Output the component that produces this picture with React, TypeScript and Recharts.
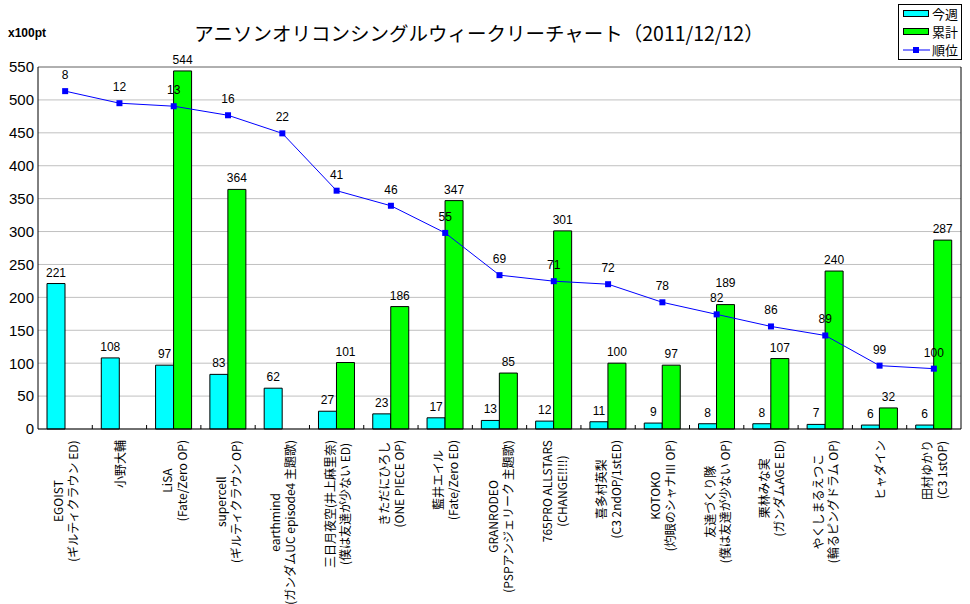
import React from 'react';
import {
  ComposedChart,
  Bar,
  Line,
  XAxis,
  YAxis,
  CartesianGrid,
  LabelList,
  Legend,
  ReferenceLine,
} from 'recharts';

const titleText = 'アニソンオリコンシングルウィークリーチャート（2011/12/12）';
const unitText = 'x100pt';

const categoryLines: string[][] = [
  ['EGOIST', '(ギルティクラウン ED)'],
  ['小野大輔'],
  ['LiSA', '(Fate/Zero OP)'],
  ['supercell', '(ギルティクラウン OP)'],
  ['earthmind', '(ガンダムUC episode4 主題歌)'],
  ['三日月夜空(井上麻里奈)', '(僕は友達が少ない ED)'],
  ['きただにひろし', '(ONE PIECE OP)'],
  ['藍井エイル', '(Fate/Zero ED)'],
  ['GRANRODEO', '(PSPアンジェリーク 主題歌)'],
  ['765PRO ALLSTARS', '(CHANGE!!!!)'],
  ['喜多村英梨', '(C3 2ndOP/1stED)'],
  ['KOTOKO', '(灼眼のシャナⅢ OP)'],
  ['友達づくり隊', '(僕は友達が少ない OP)'],
  ['栗林みな実', '(ガンダムAGE ED)'],
  ['やくしまるえつこ', '(輪るピングドラム OP)'],
  ['ヒャダイン'],
  ['田村ゆかり', '(C3 1stOP)'],
];

const weeklyValues: number[] = [221, 108, 97, 83, 62, 27, 23, 17, 13, 12, 11, 9, 8, 8, 7, 6, 6];
const totalValues: (number | null)[] = [null, null, 544, 364, null, 101, 186, 347, 85, 301, 100, 97, 189, 107, 240, 32, 287];
const rankValues: number[] = [8, 12, 13, 16, 22, 41, 46, 55, 69, 71, 72, 78, 82, 86, 89, 99, 100];

const leftMax = 550;
const rankMax = 120;
const leftTicks: number[] = [0, 50, 100, 150, 200, 250, 300, 350, 400, 450, 500, 550];
const rankTicks: number[] = [0, 20, 40, 60, 80, 100, 120];

const seriesNames = { weekly: '今週', total: '累計', rank: '順位' };

const data = categoryLines.map((lines, i) => ({
  name: lines.join('\n'),
  weekly: weeklyValues[i],
  total: totalValues[i],
  rank: rankValues[i],
}));

const LABEL_FONT = 12;
const LABEL_FAMILY = '"Noto Sans CJK JP", sans-serif';
const NUM_FAMILY = '"Liberation Sans", sans-serif';
const LINE_H = 15;
const BAR_LABEL_OFFSET = 7;
const RANK_LABEL_OFFSET = 12;

let measureCtx: CanvasRenderingContext2D | null = null;
function textWidth(s: string): number {
  if (!measureCtx) {
    const c = document.createElement('canvas');
    measureCtx = c.getContext('2d');
  }
  if (!measureCtx) return s.length * LABEL_FONT;
  measureCtx.font = `${LABEL_FONT}px "Noto Sans CJK JP"`;
  return measureCtx.measureText(s).width;
}

const XTick = (props: any) => {
  const { x, y, payload, index } = props;
  const lines = String(payload.value).split('\n');
  const maxW = Math.max(...lines.map(textWidth));
  const cx = -(11 + maxW / 2);
  const half = Number(payload.offset) || 0;
  return (
    <g>
      {index > 0 && half > 0 ? (
        <line x1={x - half} x2={x - half} y1={y} y2={y - 4} stroke="#000" />
      ) : null}
      <g transform={`translate(${x},${y}) rotate(-90)`}>
        {lines.map((t, i) => (
          <text
            key={i}
            x={cx}
            y={(i - (lines.length - 1) / 2) * LINE_H}
            textAnchor="middle"
            dominantBaseline="central"
            fontSize={LABEL_FONT}
            fontFamily={LABEL_FAMILY}
            fill="#000"
          >
            {t}
          </text>
        ))}
      </g>
    </g>
  );
};

// Bar value label that steps above the rank label when the two would collide
const TotalLabel = (props: any) => {
  const vb = props.viewBox || {};
  const bx = Number(vb.x ?? props.x);
  const rawY = Number(vb.y ?? props.y);
  const bw = Number(vb.width ?? props.width);
  const rawH = Number(vb.height ?? props.height);
  const value = props.value;
  if (value == null || value === '' || !isFinite(bx)) return null;
  const bh = Math.abs(rawH);
  const by = rawH < 0 ? rawY + rawH : rawY;
  const v = Number(value);
  let idx: number = typeof props.index === 'number' ? props.index : -1;
  if (idx < 0 || totalValues[idx] !== v) idx = totalValues.indexOf(v);
  let baseline = by - BAR_LABEL_OFFSET;
  if (v > 0 && bh > 0 && idx >= 0) {
    const bottom = by + bh;
    const plotH = (leftMax * bh) / v;
    const top = bottom - plotH;
    const rankY = top + (rankValues[idx] / rankMax) * plotH;
    const rankBase = rankY - RANK_LABEL_OFFSET;
    if (baseline > rankBase - 10 && baseline - 9 < rankBase) {
      baseline = rankBase - 15;
    }
  }
  return (
    <text x={bx + bw / 2} y={baseline} textAnchor="middle" fontSize={12} fill="#000" fontFamily={NUM_FAMILY}>
      {value}
    </text>
  );
};

const SquareDot = (props: any) => {
  const { cx, cy } = props;
  if (cx == null || cy == null) return null;
  return <rect x={cx - 3} y={cy - 3} width={6} height={6} fill="#0000ff" />;
};

const LegendBox = () => (
  <div
    style={{
      border: '1px solid #000',
      background: '#fff',
      padding: '0px 3px 0px 4px',
      fontFamily: LABEL_FAMILY,
      fontSize: 13,
      lineHeight: '18px',
      color: '#000',
    }}
  >
    {[
      { key: 'weekly', color: '#00ffff', type: 'rect' },
      { key: 'total', color: '#00ff00', type: 'rect' },
      { key: 'rank', color: '#0000ff', type: 'line' },
    ].map((it) => (
      <div key={it.key} style={{ display: 'flex', alignItems: 'center', height: 18 }}>
        <svg width={27} height={10} style={{ marginRight: 2 }}>
          {it.type === 'rect' ? (
            <rect x={0.5} y={1.5} width={25} height={6} fill={it.color} stroke="#000" />
          ) : (
            <g>
              <line x1={0} y1={5} x2={27} y2={5} stroke={it.color} />
              <rect x={10} y={2} width={6} height={6} fill={it.color} />
            </g>
          )}
        </svg>
        <span>{(seriesNames as any)[it.key]}</span>
      </div>
    ))}
  </div>
);

export default function App() {
  return (
    <div style={{ position: 'absolute', left: 0, top: 0, width: 970, height: 604, background: '#fff' }}>
      <div
        style={{
          position: 'absolute',
          left: 0,
          top: 21,
          width: 958,
          textAlign: 'center',
          fontFamily: LABEL_FAMILY,
          fontSize: 19.5,
          lineHeight: '24px',
          color: '#000',
        }}
      >
        {titleText}
      </div>
      <div
        style={{
          position: 'absolute',
          left: 8,
          top: 25,
          fontFamily: NUM_FAMILY,
          fontWeight: 'bold',
          fontSize: 12,
          lineHeight: '16px',
          color: '#000',
        }}
      >
        {unitText}
      </div>
      <ComposedChart
        width={970}
        height={604}
        data={data}
        margin={{ top: 67, right: 9, bottom: 0, left: 0 }}
        barGap={0}
        style={{ position: 'absolute', left: 0, top: 0 }}
      >
        <CartesianGrid horizontal vertical={false} stroke="#c0c0c0" />
        <XAxis
          dataKey="name"
          type="category"
          interval={0}
          height={175}
          tickLine={false}
          tickSize={0}
          tickMargin={0}
          axisLine={{ stroke: '#000' }}
          tick={(p: any) => <XTick {...p} />}
        />
        <YAxis
          width={38}
          domain={[0, leftMax]}
          ticks={leftTicks}
          interval={0}
          tickLine={false}
          tickSize={0}
          tickMargin={4}
          axisLine={{ stroke: '#000' }}
          tick={{ fontSize: 15, fill: '#000', fontFamily: NUM_FAMILY }}
        />
        <YAxis
          yAxisId="rank"
          orientation="right"
          width={1}
          reversed
          domain={[0, rankMax]}
          ticks={rankTicks}
          interval={0}
          mirror
          tick={false}
          tickSize={5}
          axisLine={{ stroke: '#000' }}
          tickLine={{ stroke: '#000' }}
        />
        <ReferenceLine y={leftMax} stroke="#808080" />
        <Legend
          layout="horizontal"
          verticalAlign="middle"
          align="center"
          content={<LegendBox />}
          wrapperStyle={{ position: 'absolute', top: 4, left: 898, width: 'auto' }}
        />
        <Bar dataKey="weekly" name={seriesNames.weekly} fill="#00ffff" stroke="#000" strokeWidth={1} barSize={18} isAnimationActive={false}>
          <LabelList dataKey="weekly" position="top" offset={BAR_LABEL_OFFSET} fontSize={12} fill="#000" fontFamily={NUM_FAMILY} />
        </Bar>
        <Bar
          dataKey="total"
          name={seriesNames.total}
          fill="#00ff00"
          stroke="#000"
          strokeWidth={1}
          barSize={18}
          isAnimationActive={false}
          label={(p: any) => <TotalLabel {...p} />}
        />
        <Line
          yAxisId="rank"
          dataKey="rank"
          name={seriesNames.rank}
          stroke="#0000ff"
          strokeWidth={1}
          dot={<SquareDot />}
          activeDot={false}
          isAnimationActive={false}
        >
          <LabelList dataKey="rank" position="top" offset={RANK_LABEL_OFFSET} fontSize={12} fill="#000" fontFamily={NUM_FAMILY} />
        </Line>
      </ComposedChart>
    </div>
  );
}
